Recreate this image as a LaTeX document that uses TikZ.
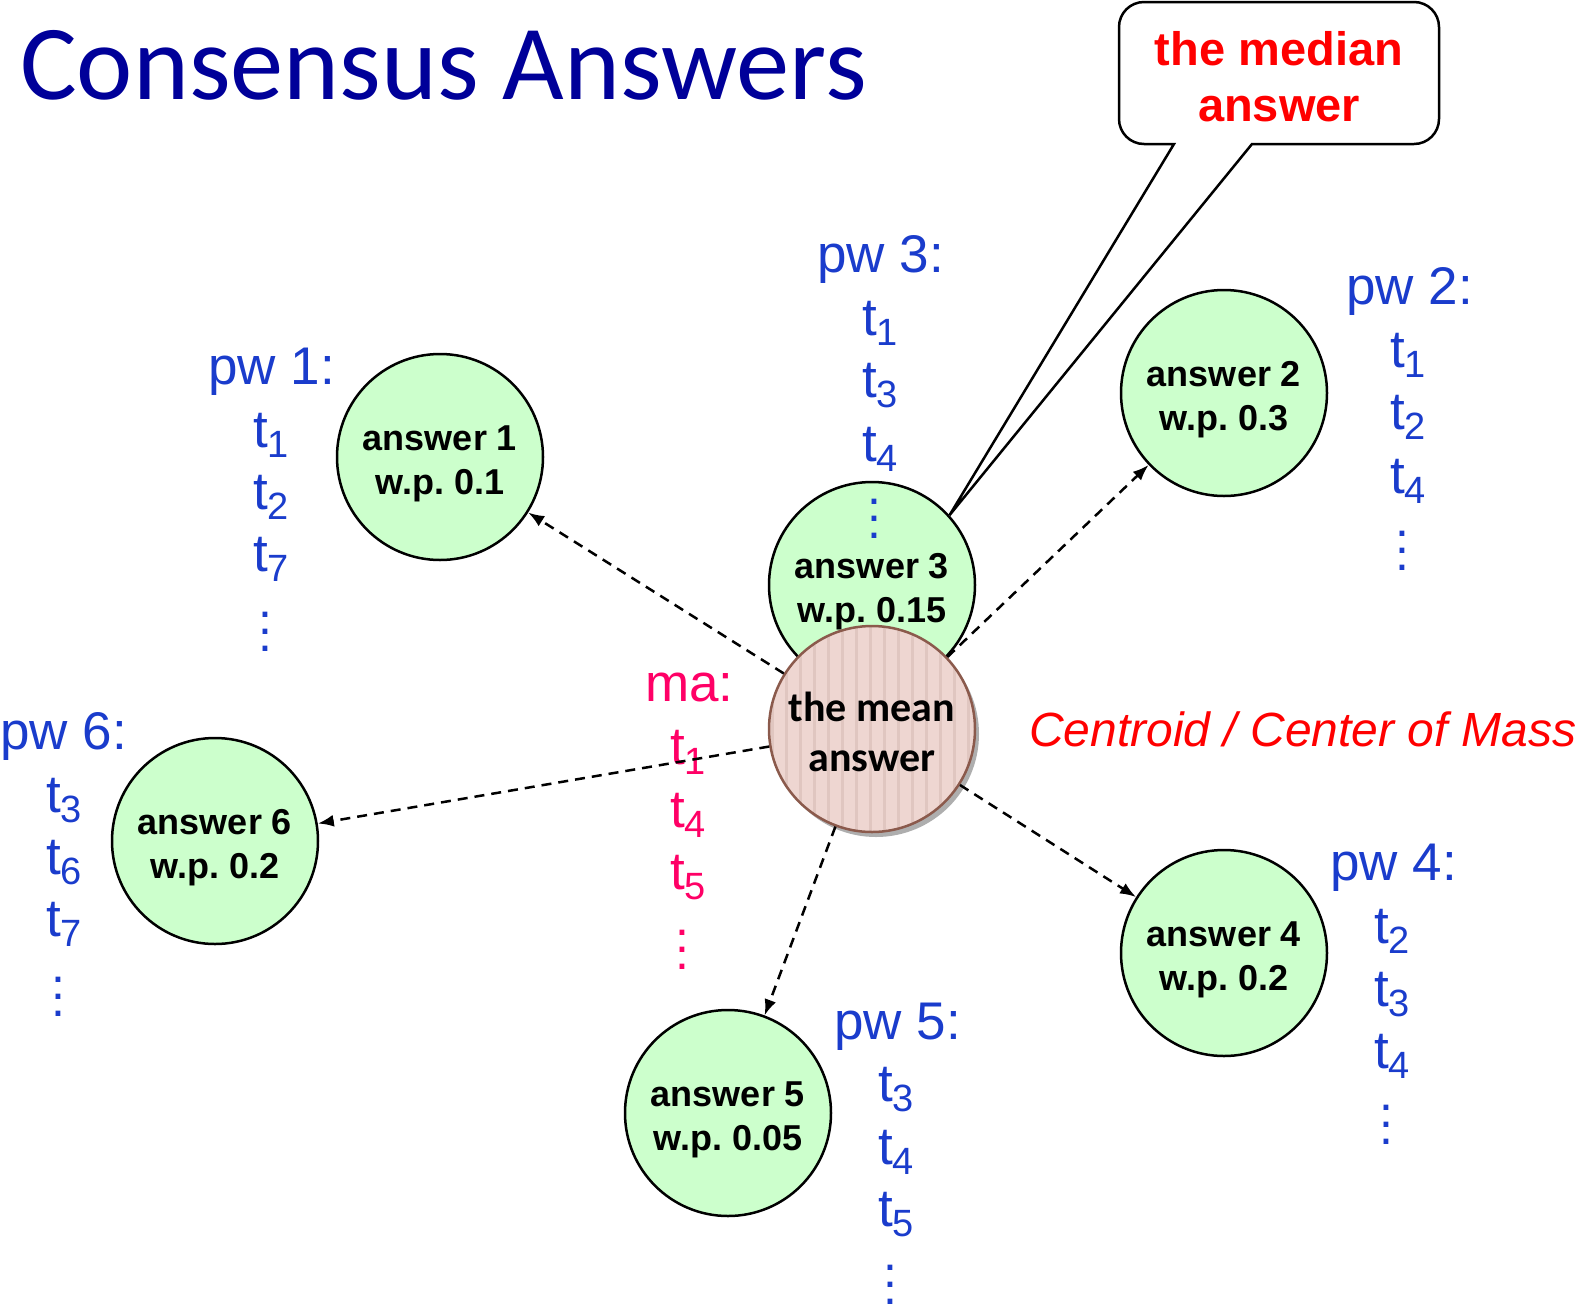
\documentclass[tikz,border=0pt]{standalone}
\usepackage{fontspec}
\setmainfont{Liberation Sans}
\newfontfamily\calibri{Carlito}
\usetikzlibrary{arrows.meta,shadows}
\definecolor{pwblue}{HTML}{1A3CCC}
\definecolor{titleblue}{HTML}{000099}
\definecolor{mapink}{HTML}{FF0066}
\definecolor{ansgreen}{HTML}{CCFFCC}
\definecolor{meanfill}{HTML}{EED6D1}
\definecolor{meanline}{HTML}{8B5A4C}
\definecolor{stripecol}{HTML}{E0C6C0}
\newcommand{\tsub}[1]{t\raisebox{-10pt}{\fontsize{38}{38}\selectfont #1}}
\frenchspacing
\begin{document}
\frenchspacing
\begin{tikzpicture}[x=1pt,y=-1pt,
  answer/.style={circle, draw=black, line width=2.5pt, fill=ansgreen, minimum size=206pt, inner sep=0pt},
  anstext/.style={inner sep=0pt, align=center, font=\fontsize{36}{44}\selectfont\bfseries},
  meannode/.style={circle, draw=meanline, line width=2.5pt, fill=meanfill, minimum size=206pt, inner sep=0pt,
    drop shadow={shadow xshift=4pt, shadow yshift=-5pt, opacity=0.45, fill=black!70},
    path picture={\foreach \i in {-100,-86,...,100}
      \draw[stripecol, line width=3pt] ([xshift=\i pt]path picture bounding box.north) -- ([xshift=\i pt]path picture bounding box.south);}},
  meantext/.style={inner sep=0pt, align=center, font=\calibri\fontsize{42}{50}\selectfont\bfseries},
  link/.style={dash pattern=on 10pt off 7pt, line width=2.5pt, -{Latex[length=16pt,width=12pt]}},
  pwlabel/.style={anchor=base west, inner sep=0pt, text=pwblue, font=\fontsize{53}{53}\selectfont},
  malabel/.style={pwlabel, text=mapink},
  dotcol/.style={anchor=north, inner sep=0pt, align=center, text=pwblue, font=\fontsize{50}{17}\selectfont},
]
\useasboundingbox (0,0) rectangle (1577,1307);

% title
\node[anchor=base west, inner sep=0pt, text=titleblue, font=\calibri\fontsize{106.5}{106.5}\selectfont] (title) at (20,99) {Consensus Answers};

% answer circles
\node[answer] (a1) at (440,457) {};
\node[answer] (a2) at (1224,393) {};
\node[answer] (a3) at (872,585) {};
\node[answer] (a4) at (1224,953) {};
\node[answer] (a5) at (728,1113) {};
\node[answer] (a6) at (215,841) {};
\node[anstext] (a1t) at ([yshift=-7pt]a1.center) {answer 1\\w.p. 0.1};
\node[anstext] (a2t) at ([yshift=-7pt]a2.center) {answer 2\\w.p. 0.3};
\node[anstext] (a3t) at ([yshift=-7pt]a3.center) {answer 3\\w.p. 0.15};
\node[anstext] (a4t) at ([yshift=-7pt]a4.center) {answer 4\\w.p. 0.2};
\node[anstext] (a5t) at ([yshift=-7pt]a5.center) {answer 5\\w.p. 0.05};
\node[anstext] (a6t) at ([yshift=-7pt]a6.center) {answer 6\\w.p. 0.2};

% callout
\coordinate (tip) at (a3.42);
\draw[line width=2.5pt, fill=white]
  (tip) -- (1252,144) [rounded corners=25pt] -- (1439,144) -- (1439,2) -- (1119,2) -- (1119,144)
  [sharp corners] -- (1174,144) -- cycle;
\node[align=center, inner sep=0pt, text=red, font=\fontsize{47}{56}\selectfont\bfseries] (median) at (1279,77) {the median\\answer};

% pw labels
\node[pwlabel] (pw1) at (208,384) {pw 1:};
\node[pwlabel] (pw1a) at (253,447) {\tsub{1}};
\node[pwlabel] (pw1b) at (253,509) {\tsub{2}};
\node[pwlabel] (pw1c) at (253,571) {\tsub{7}};
\node[dotcol] (pw1d) at (265,612) {.\\.\\.};

\node[pwlabel] (pw3) at (817,272) {pw 3:};
\node[pwlabel] (pw3a) at (862,335) {\tsub{1}};
\node[pwlabel] (pw3b) at (862,397) {\tsub{3}};
\node[pwlabel] (pw3c) at (862,461) {\tsub{4}};
\node[dotcol] (pw3d) at (874,499) {.\\.\\.};

\node[pwlabel] (pw2) at (1346,304) {pw 2:};
\node[pwlabel] (pw2a) at (1390,367) {\tsub{1}};
\node[pwlabel] (pw2b) at (1390,429) {\tsub{2}};
\node[pwlabel] (pw2c) at (1390,493) {\tsub{4}};
\node[dotcol] (pw2d) at (1402,531) {.\\.\\.};

\node[pwlabel] (pw6) at (0,749) {pw 6:};
\node[pwlabel] (pw6a) at (46,812) {\tsub{3}};
\node[pwlabel] (pw6b) at (46,874) {\tsub{6}};
\node[pwlabel] (pw6c) at (46,936) {\tsub{7}};
\node[dotcol] (pw6d) at (58,977) {.\\.\\.};

\node[pwlabel] (pw4) at (1330,880) {pw 4:};
\node[pwlabel] (pw4a) at (1374,943) {\tsub{2}};
\node[pwlabel] (pw4b) at (1374,1006) {\tsub{3}};
\node[pwlabel] (pw4c) at (1374,1068) {\tsub{4}};
\node[dotcol] (pw4d) at (1386,1105) {.\\.\\.};

\node[pwlabel] (pw5) at (834,1039) {pw 5:};
\node[pwlabel] (pw5a) at (878,1101) {\tsub{3}};
\node[pwlabel] (pw5b) at (878,1164) {\tsub{4}};
\node[pwlabel] (pw5c) at (878,1226) {\tsub{5}};
\node[dotcol] (pw5d) at (890,1265) {.\\.\\.};

% ma labels
\node[malabel] (ma) at (645,701) {ma:};
\node[malabel] (maa) at (670,764) {\tsub{1}};
\node[malabel] (mab) at (670,827) {\tsub{4}};
\node[malabel] (mac) at (670,889) {\tsub{5}};
\node[dotcol, text=mapink] (mad) at (682,930) {.\\.\\.};

% mean node
\node[meannode] (mean) at (872,729) {};
\node[meantext] (meant) at ([yshift=-3pt]mean.center) {the mean\\answer};

% arrows
\draw[link] (mean) -- (a1);
\draw[link] (mean) -- (a2);
\draw[link] (mean) -- (a4);
\draw[link] (mean) -- (a5);
\draw[link] (mean) -- (a6);

% centroid
\node[anchor=base west, inner sep=0pt, text=red, font=\fontsize{48}{48}\selectfont\itshape] (centroid) at (1029,746) {Centroid / Center of Mass};
\end{tikzpicture}
\end{document}
